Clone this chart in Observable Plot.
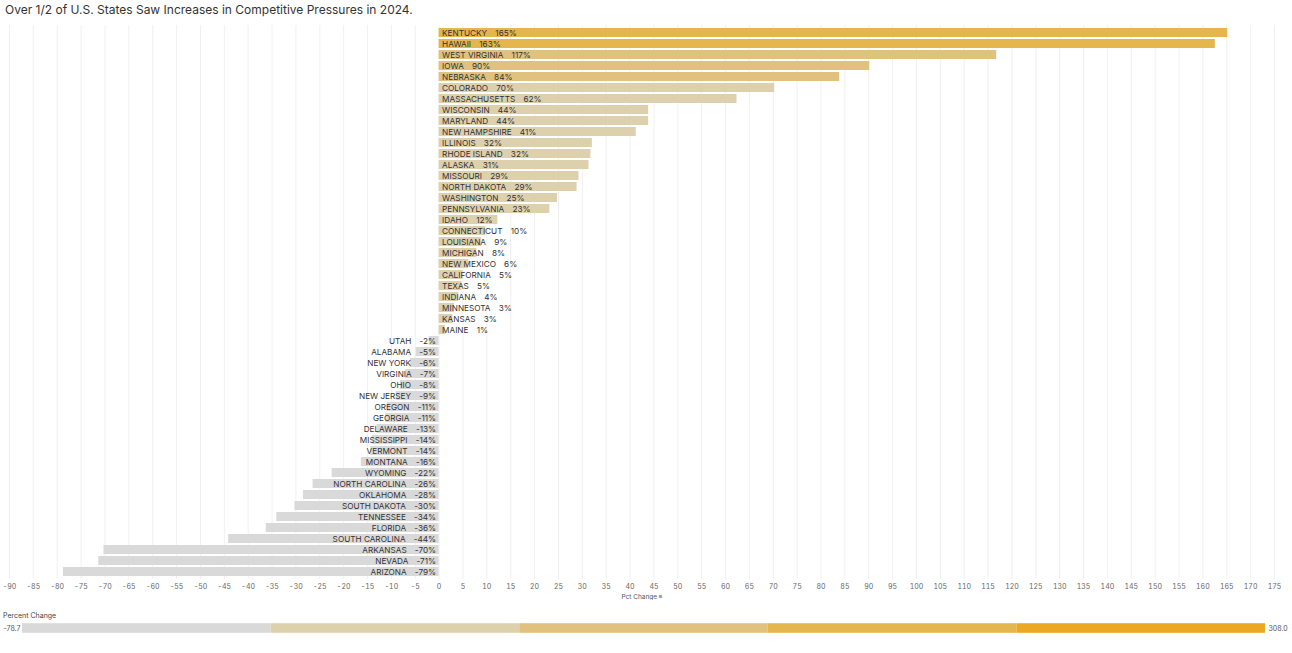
<!DOCTYPE html>
<html>
<head>
<meta charset="utf-8">
<script src="https://cdn.jsdelivr.net/npm/d3@7"></script>
<script src="https://cdn.jsdelivr.net/npm/@observablehq/plot@0.6"></script>
<style>
  html, body { margin: 0; padding: 0; background: #fff; font-family: Inter, "Noto Sans", sans-serif; }
  #title { height: 20px; line-height: 20px; font-size: 12px; color: #333; padding-left: 5px; }
  #legtitle { height: 22px; box-sizing: border-box; padding-top: 11px; font-size: 7px; color: #444; padding-left: 3px; line-height: 10px; }
  svg { display: block; }
</style>
</head>
<body>
<div id="title">Over 1/2 of U.S. States Saw Increases in Competitive Pressures in 2024.</div>
<div id="chart"></div>
<div id="legtitle">Percent Change</div>
<div id="legend"></div>
<script>
const states = ["KENTUCKY","HAWAII","WEST VIRGINIA","IOWA","NEBRASKA","COLORADO","MASSACHUSETTS","WISCONSIN","MARYLAND","NEW HAMPSHIRE","ILLINOIS","RHODE ISLAND","ALASKA","MISSOURI","NORTH DAKOTA","WASHINGTON","PENNSYLVANIA","IDAHO","CONNECTICUT","LOUISIANA","MICHIGAN","NEW MEXICO","CALIFORNIA","TEXAS","INDIANA","MINNESOTA","KANSAS","MAINE","UTAH","ALABAMA","NEW YORK","VIRGINIA","OHIO","NEW JERSEY","OREGON","GEORGIA","DELAWARE","MISSISSIPPI","VERMONT","MONTANA","WYOMING","NORTH CAROLINA","OKLAHOMA","SOUTH DAKOTA","TENNESSEE","FLORIDA","SOUTH CAROLINA","ARKANSAS","NEVADA","ARIZONA"];
const pctChange = [165.2,162.6,116.8,90.2,83.9,70.3,62.4,43.9,43.9,41.3,32.1,31.8,31.4,29.3,28.9,24.8,23.2,12.3,9.8,8.9,7.9,6.2,5.0,4.8,4.1,3.2,2.9,1.3,-2.1,-4.8,-6.0,-7.0,-8.1,-9.0,-10.8,-11.2,-13.0,-14.0,-14.3,-16.3,-22.4,-26.4,-28.4,-30.2,-34.0,-36.2,-44.1,-70.2,-71.3,-78.7];
const xTicks = d3.range(-90, 176, 5);
const colorThresholds = [-1.36, 75.98, 153.32, 230.66];
const colorRange = ["#d9d9d9", "#ddd0ad", "#e0c27e", "#e5b64e", "#eaa823"];
const legendMin = -78.7, legendMax = 308.0;
const legendBreaks = [legendMin, ...colorThresholds, legendMax];

const data = states.map((s, i) => ({state: s, value: pctChange[i], label: s + "\u2002\u2002" + Math.round(pctChange[i]) + "%"}));

const chart = Plot.plot({
  width: 1292,
  height: 580,
  marginTop: 5,
  marginBottom: 21,
  marginLeft: 9,
  marginRight: 18,
  style: {fontFamily: "Inter, 'Noto Sans', sans-serif", background: "#fff"},
  x: {domain: [-90, 175], ticks: xTicks, tickSize: 0, tickPadding: 5, label: null, tickFormat: d => String(d)},
  y: {domain: states, padding: 0.18, axis: null},
  color: {type: "threshold", domain: colorThresholds, range: colorRange},
  marks: [
    Plot.gridX(xTicks, {stroke: "#ececec", strokeOpacity: 1, strokeWidth: 0.8}),
    Plot.barX(data, {x: "value", y: "state", fill: d => d.value}),
    Plot.text(data.filter(d => d.value >= 0), {x: 0, y: "state", text: "label", textAnchor: "start", dx: 3, fill: "#333", fontSize: 8.2}),
    Plot.text(data.filter(d => d.value < 0), {x: 0, y: "state", text: "label", textAnchor: "end", dx: -3, fill: "#333", fontSize: 8.2}),
    Plot.axisX({ticks: xTicks, tickSize: 0, tickPadding: 5, fontSize: 7, fill: "#666", label: null, tickFormat: d => String(d)}),
    Plot.text(["Pct Change \u2261"], {frameAnchor: "bottom", dy: 19, fontSize: 6.5, fill: "#555"})
  ]
});
document.getElementById("chart").append(chart);

const legendRects = legendBreaks.slice(0, -1).map((b, i) => ({x1: b, x2: legendBreaks[i + 1], c: colorRange[i]}));
const legend = Plot.plot({
  width: 1292,
  height: 12,
  marginTop: 0,
  marginBottom: 0,
  marginLeft: 22,
  marginRight: 27,
  style: {fontFamily: "Inter, 'Noto Sans', sans-serif", background: "#fff"},
  x: {domain: [legendMin, legendMax], axis: null},
  y: {domain: [0, 1], axis: null},
  marks: [
    Plot.rectX(legendRects, {x1: "x1", x2: "x2", y1: 0.1, y2: 0.9, fill: "c"}),
    Plot.text([legendMin], {x: d => d, y: 0.5, text: d => d.toFixed(1), textAnchor: "end", dx: -2, fontSize: 7, fill: "#555"}),
    Plot.text([legendMax], {x: d => d, y: 0.5, text: d => d.toFixed(1), textAnchor: "start", dx: 3, fontSize: 7, fill: "#555"})
  ]
});
document.getElementById("legend").append(legend);
</script>
</body>
</html>
